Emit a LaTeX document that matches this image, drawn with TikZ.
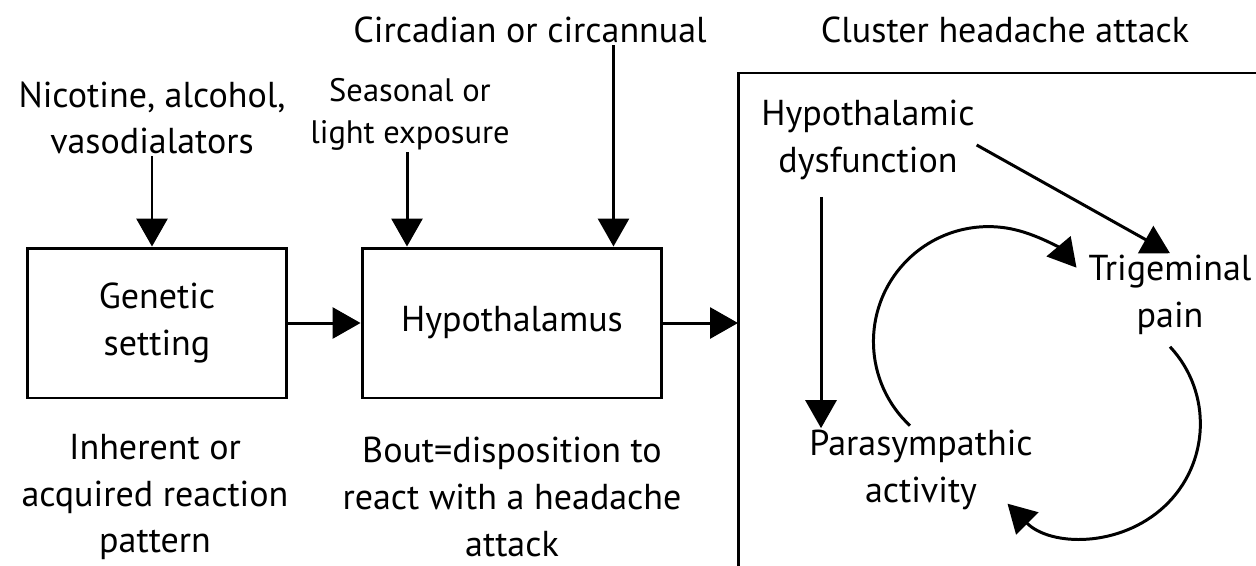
\documentclass[tikz,border=0pt]{standalone}
\usepackage{fontspec}
\setmainfont{PT Sans}
\usetikzlibrary{arrows.meta}

\begin{document}
\begin{tikzpicture}[x=0.02cm, y=-0.02cm,
  txt/.style={align=center, font=\fontsize{20.5}{26.5}\selectfont, inner sep=1pt},
  small/.style={align=center, font=\fontsize{18.5}{24}\selectfont, inner sep=1pt},
  box/.style={txt, draw, line width=1.7pt, minimum height=3cm},
  arr/.style={line width=1.7pt, -{Triangle[length=0.56cm, width=0.62cm]}}]

\useasboundingbox (0,0) rectangle (1256,565);

% boxes
\node[box, minimum width=5.18cm] (gen) at (157,323) {Genetic\\setting};
\node[box, minimum width=6cm] (hyp) at (512,323) {Hypothalamus};

% inputs
\node[txt] (nic) at (152,118) {Nicotine, alcohol,\\vasodialators};
\node[small] (sea) at (410,114) {Seasonal or\\light exposure};
\node[txt] (circ) at (530,30) {Circadian or circannual};

\draw[arr] (nic.south) -- (nic.south |- gen.north);
\draw[arr] ([xshift=-0.06cm]sea.south) -- ([xshift=-0.06cm]sea.south |- hyp.north);
\draw[arr] ([xshift=-1cm]hyp.north east |- circ.south) -- ([xshift=-1cm]hyp.north east);

% outputs
\node[txt] (inh) at (155,497) {Inherent or\\acquired reaction\\pattern};
\node[txt] (bout) at (512,497) {Bout=disposition to\\react with a headache\\attack};

% cluster box
\node[txt] (clu) at (1005,30) {Cluster headache attack};
\coordinate (cltl) at (738,73);
\coordinate (clbl) at (738,570);
\coordinate (cltr) at (1260,73);
\draw[line width=1.7pt] (clbl) -- (cltl) -- (cltr);

\draw[arr] (gen.east) -- (hyp.west);
\draw[arr] (hyp.east) -- (hyp.east -| cltl);

% inside
\node[txt] (dys) at (868,140) {Hypothalamic\\dysfunction};
\node[txt] (trig) at (1170,295) {Trigeminal\\pain};
\node[txt] (para) at (921,470) {Parasympathic\\activity};

\draw[arr] ([xshift=-0.94cm, yshift=-0.3cm]dys.south) -- ([xshift=-0.94cm]dys.south |- para.north);
\draw[arr] ([yshift=-0.1cm]dys.east) -- (trig.north);

\draw[arr] ([xshift=-0.22cm, yshift=0.05cm]para.north) arc[start angle=227, end angle=40, radius=2.3cm];
\draw[arr] ([yshift=-0.2cm]trig.south) arc[start angle=43, end angle=-135, radius=2.26cm];

\end{tikzpicture}
\end{document}
